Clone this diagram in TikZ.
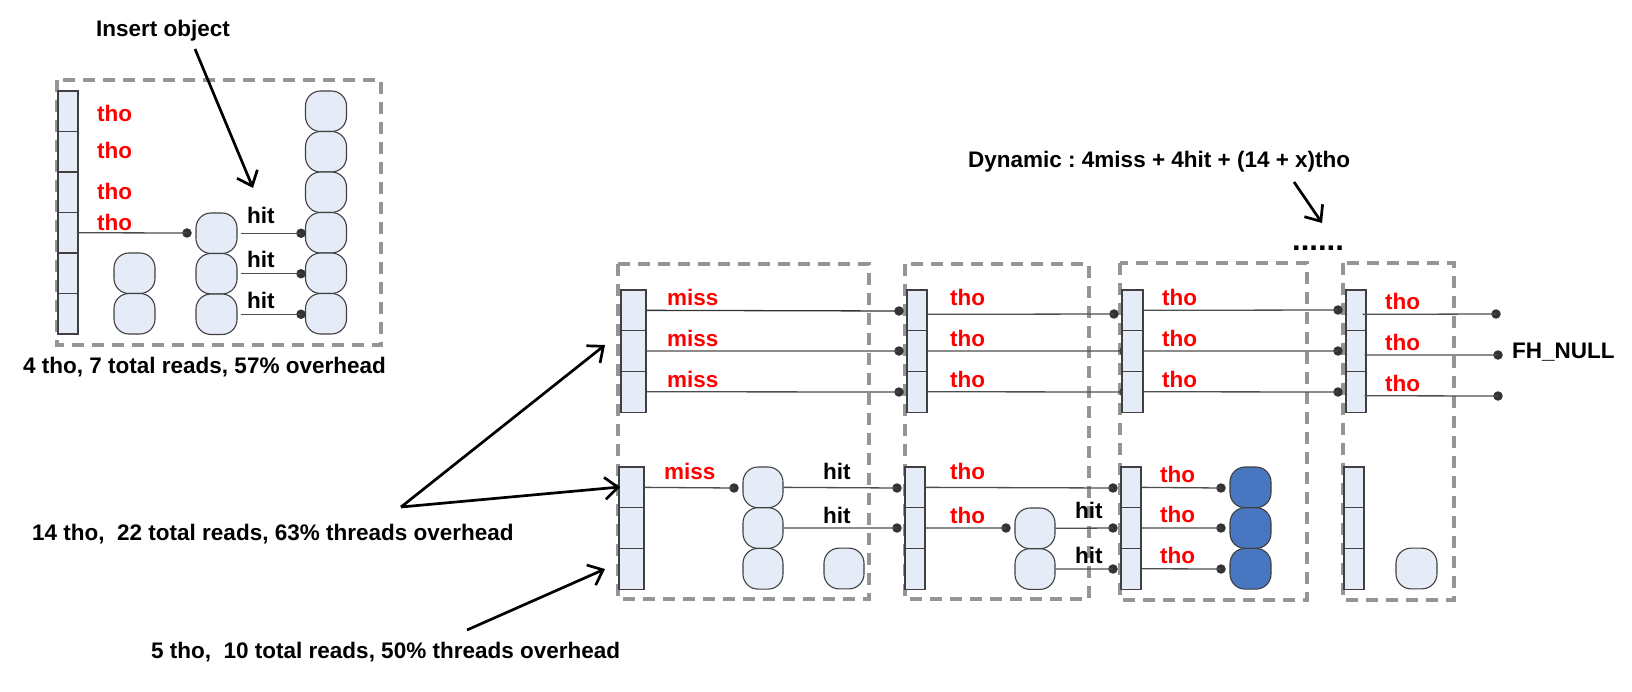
\documentclass[tikz,border=0pt]{standalone}
\usepackage{fontspec}
\setmainfont{Liberation Sans}
\usetikzlibrary{arrows.meta}
\definecolor{cellfill}{HTML}{E6ECF7}
\definecolor{celldraw}{HTML}{404040}
\definecolor{objblue}{HTML}{4876C0}
\definecolor{boxgray}{HTML}{959595}
\definecolor{conngray}{HTML}{4D4D4D}
\definecolor{dotgray}{HTML}{333333}
\definecolor{lblred}{HTML}{FF0000}
\newcommand\mkcol[7]{%
  \foreach \k in {1,...,#7} {\node[#2, minimum width=#5, minimum height=#6] (#1\k) at (#3, {#4+#6*(\k-0.5)}) {};}}
\frenchspacing
\begin{document}
\begin{tikzpicture}[x=1pt,y=-1pt,
  cell/.style={rectangle, draw=celldraw, fill=cellfill, line width=1.1pt, inner sep=0pt},
  obj/.style={rectangle, rounded corners=15pt, draw=celldraw, fill=cellfill, line width=1.1pt, inner sep=0pt},
  objb/.style={obj, fill=objblue},
  dashbox/.style={draw=boxgray, line width=3.2pt, dash pattern=on 12pt off 8pt},
  conn/.style={draw=conngray, line width=1.3pt},
  dotn/.style={circle, fill=dotgray, inner sep=0pt, minimum size=9.5pt},
  txt/.style={inner sep=0pt, anchor=base west, font=\fontsize{22.5}{27}\selectfont\bfseries},
  red/.style={txt, text=lblred},
  bigarrow/.style={line width=2.7pt, -{Straight Barb[length=13pt,width=22pt]}}]
\useasboundingbox (0,0) rectangle (1632,692);

% dashed boxes
\draw[dashbox] (57,80) rectangle (381,345);
\draw[dashbox] (618,264) rectangle (869,599);
\draw[dashbox] (905,264) rectangle (1089,599);
\draw[dashbox] (1120,263) rectangle (1307,600);
\draw[dashbox] (1343,263) rectangle (1454,600);

% ---------- left box ----------
\mkcol{A}{cell}{68}{91}{20}{40.5}{6}
\mkcol{S}{obj}{134.5}{253}{41}{40.5}{2}
\mkcol{M}{obj}{216.5}{213}{41}{40.5}{3}
\mkcol{R}{obj}{326}{91}{41}{40.5}{6}
\node[red] (ta1) at (97,122) {tho};
\node[red] (ta2) at (97,159) {tho};
\node[red] (ta3) at (97,200) {tho};
\node[red] (ta4) at (97,231) {tho};
\node[dotn] (da) at (187,233) {};
\draw[conn] (A4.east) -- (da.center);
\node[dotn] (dr1) at (301,233.25) {};
\node[dotn] (dr2) at (301,273.75) {};
\node[dotn] (dr3) at (301,314.25) {};
\draw[conn] ([xshift=3pt]M1.east) -- (dr1.center);
\draw[conn] ([xshift=3pt]M2.east) -- (dr2.center);
\draw[conn] ([xshift=3pt]M3.east) -- (dr3.center);
\node[txt] (ha1) at (247,224) {hit};
\node[txt] (ha2) at (247,268) {hit};
\node[txt] (ha3) at (247,309) {hit};
\node[txt, anchor=base] (ins) at (163,37) {Insert object};
\coordinate (insT) at (253,188);
\draw[bigarrow] (195,49) -- (insT);
\node[txt] (capA) at (23,373) {4 tho, 7 total reads, 57\% overhead};

% ---------- box 1 ----------
\mkcol{Ta}{cell}{633.5}{290}{25}{40.7}{3}
\mkcol{Ba}{cell}{631.5}{467}{25}{40.7}{3}
\mkcol{Oa}{obj}{763}{467}{40}{40.7}{3}
\node[obj, minimum width=40, minimum height=40.7] (Oa4) at (844,568.5) {};
\node[dotn] (pa1) at (899,311) {};
\node[dotn] (pa2) at (899,351) {};
\node[dotn] (pa3) at (899,392) {};
\draw[conn, draw=black!80] (Ta1.east) -- (pa1.center);
\draw[conn] (Ta2.east) -- (pa2.center);
\draw[conn] (Ta3.east) -- (pa3.center);
\node[red] (ma1) at (667,306) {miss};
\node[red] (ma2) at (667,346) {miss};
\node[red] (ma3) at (667,387) {miss};
\node[dotn] (qa0) at (734,488) {};
\draw[conn] (Ba1.east) -- (qa0.center);
\node[red] (ma4) at (664,479) {miss};
\node[dotn] (qa1) at (897,488) {};
\node[dotn] (qa2) at (897,528) {};
\draw[conn] (Oa1.east) -- (qa1.center);
\draw[conn] (Oa2.east) -- (qa2.center);
\node[txt] (hb1) at (823,479) {hit};
\node[txt] (hb2) at (823,523) {hit};

% ---------- box 2 ----------
\mkcol{Tb}{cell}{917}{290}{20}{40.7}{3}
\mkcol{Bb}{cell}{915}{467}{20}{40.7}{3}
\mkcol{Ob}{obj}{1035}{508}{40}{40.7}{2}
\node[dotn] (pb1) at (1114,314) {};
\node[dotn] (pb2) at (1124,351) {};
\node[dotn] (pb3) at (1124,392) {};
\draw[conn] ([yshift=-4pt]Tb1.east) -- (pb1.center);
\draw[conn] (Tb2.east) -- (pb2.center);
\draw[conn] (Tb3.east) -- (pb3.center);
\node[red] (tb1) at (950,306) {tho};
\node[red] (tb2) at (950,346) {tho};
\node[red] (tb3) at (950,387) {tho};
\node[dotn] (qb1) at (1113,488) {};
\node[dotn] (qb0) at (1006,528) {};
\node[dotn] (qb2) at (1113,528) {};
\node[dotn] (qb3) at (1113,569) {};
\draw[conn] (Bb1.east) -- (qb1.center);
\draw[conn] (Bb2.east) -- (qb0.center);
\draw[conn] (Ob1.east) -- (qb2.center);
\draw[conn] (Ob2.east) -- (qb3.center);
\node[red] (tb4) at (950,479) {tho};
\node[red] (tb5) at (950,523) {tho};
\node[txt] (hc1) at (1075,518) {hit};
\node[txt] (hc2) at (1075,563) {hit};

% ---------- box 3 ----------
\mkcol{Tc}{cell}{1132.5}{290}{21}{40.7}{3}
\mkcol{Bc}{cell}{1131}{467}{20}{40.7}{3}
\mkcol{Oc}{objb}{1250.5}{467}{41}{40.7}{3}
\node[dotn] (pc1) at (1338,310) {};
\node[dotn] (pc2) at (1338,351) {};
\node[dotn] (pc3) at (1338,392) {};
\draw[conn] (Tc1.east) -- (pc1.center);
\draw[conn] (Tc2.east) -- (pc2.center);
\draw[conn] (Tc3.east) -- (pc3.center);
\node[red] (tc1) at (1162,306) {tho};
\node[red] (tc2) at (1162,346) {tho};
\node[red] (tc3) at (1162,387) {tho};
\node[dotn] (qc1) at (1221,488) {};
\node[dotn] (qc2) at (1221,528) {};
\node[dotn] (qc3) at (1221,569) {};
\draw[conn] (Bc1.east) -- (qc1.center);
\draw[conn] (Bc2.east) -- (qc2.center);
\draw[conn] (Bc3.east) -- (qc3.center);
\node[red] (tc4) at (1160,482) {tho};
\node[red] (tc5) at (1160,522) {tho};
\node[red] (tc6) at (1160,563) {tho};

% ---------- box 4 ----------
\mkcol{Td}{cell}{1356}{290}{20}{40.7}{3}
\mkcol{Bd}{cell}{1354}{467}{20}{40.7}{3}
\node[obj, minimum width=41, minimum height=40.7] (Od) at (1416.5,568.5) {};
\node[dotn] (pd1) at (1496,314) {};
\node[dotn] (pd2) at (1498,355) {};
\node[dotn] (pd3) at (1498,396) {};
\draw[conn] ([xshift=-4pt,yshift=-4pt]Td1.east) -- (pd1.center);
\draw[conn] ([xshift=-2pt,yshift=-4pt]Td2.east) -- (pd2.center);
\draw[conn] ([xshift=-2pt,yshift=-4pt]Td3.east) -- (pd3.center);
\node[red] (td1) at (1385,310) {tho};
\node[red] (td2) at (1385,350) {tho};
\node[red] (td3) at (1385,391) {tho};
\node[txt] (fh) at (1512,359) {FH\_NULL};

% ---------- annotations ----------
\node[txt] (dyn) at (968,168) {Dynamic : 4miss + 4hit + (14 + x)tho};
\coordinate (dynT) at (1322,223);
\draw[bigarrow] (1294,182) -- (dynT);
\node[txt, font=\fontsize{31}{31}\selectfont\bfseries] (ell) at (1292,251) {......};

\coordinate (vtx) at (401,507);
\coordinate (tipU) at (605,345);
\coordinate (tipM) at (620,487);
\coordinate (tipL) at (605,569);
\draw[bigarrow] (vtx) -- (tipU);
\draw[bigarrow] (vtx) -- (tipM);
\draw[bigarrow] (467,630) -- (tipL);
\node[txt] (cap14) at (32,540) {14 tho,\ \ 22 total reads, 63\% threads overhead};
\node[txt] (cap5) at (151,658) {5 tho,\ \ 10 total reads, 50\% threads overhead};
\end{tikzpicture}
\end{document}
